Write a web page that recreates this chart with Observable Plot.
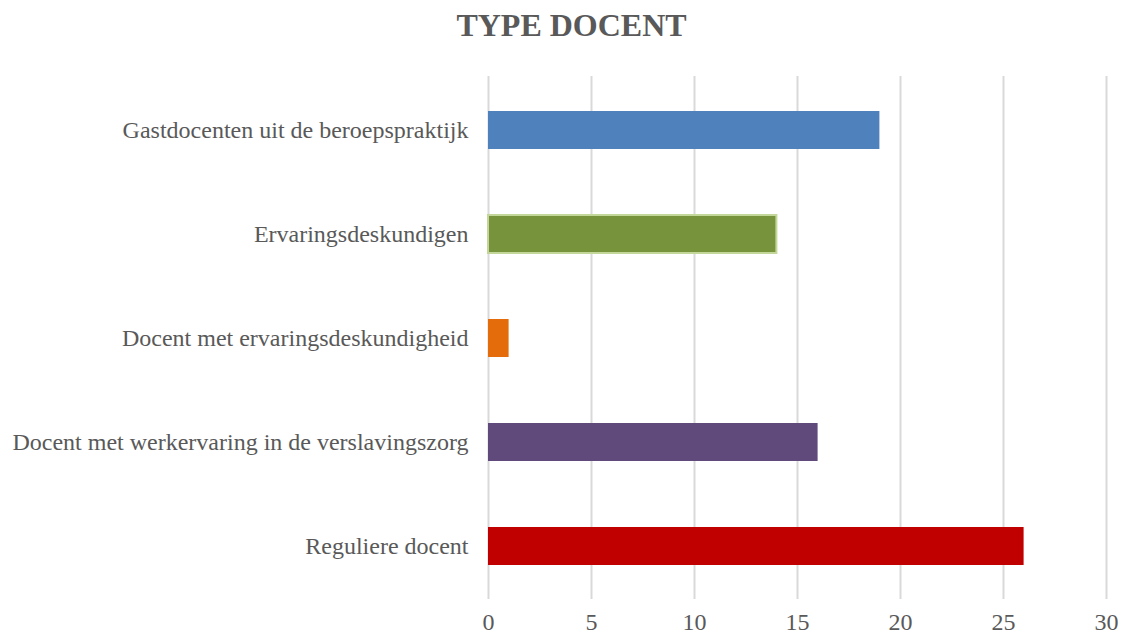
<!DOCTYPE html>
<html>
<head>
<meta charset="utf-8">
<script src="https://cdn.jsdelivr.net/npm/d3@7"></script>
<script src="https://cdn.jsdelivr.net/npm/@observablehq/plot@0.6"></script>
<style>
  html, body { margin: 0; padding: 0; background: #fff; }
  #wrap { position: relative; width: 1121px; height: 636px; overflow: hidden; }
  #title { height: 60px; width: 1121px; text-align: center; font-family: "Liberation Serif", "Times New Roman", serif;
           font-weight: bold; font-size: 32px; color: #595959; line-height: 50px; padding-left: 22px; box-sizing: border-box; }
  #chart svg { display: block; }
</style>
</head>
<body>
<div id="wrap">
  <div id="title">TYPE DOCENT</div>
  <div id="chart"></div>
</div>
<script>
const categories = [
  "Gastdocenten uit de beroepspraktijk",
  "Ervaringsdeskundigen",
  "Docent met ervaringsdeskundigheid",
  "Docent met werkervaring in de verslavingszorg",
  "Reguliere docent"
];
const values = [19, 14, 1, 16, 26];
const colors = ["#4F81BD", "#77933C", "#E46C0A", "#604A7B", "#C00000"];
const xTicks = [0, 5, 10, 15, 20, 25, 30];

const data = categories.map((c, i) => ({category: c, value: values[i], color: colors[i]}));

const chart = Plot.plot({
  width: 1121,
  height: 576,
  marginLeft: 488,
  marginRight: 15,
  marginTop: 16,
  marginBottom: 37,
  style: {fontFamily: "'Liberation Serif', 'Times New Roman', serif", color: "#595959", background: "#fff"},
  x: {domain: [0, 30], ticks: xTicks, label: null},
  y: {domain: categories, paddingInner: 0.636, paddingOuter: 0.318, label: null},
  marks: [
    Plot.gridX(xTicks, {stroke: "#d9d9d9", strokeWidth: 2, strokeOpacity: 1}),
    Plot.barX(data, {x: "value", y: "category", fill: "color", stroke: d => d.category === "Ervaringsdeskundigen" ? "#c4d79b" : "none", strokeWidth: 2}),
    Plot.axisX(xTicks, {tickSize: 0, tickPadding: 13, fontSize: 24, fill: "#595959", label: null}),
    Plot.axisY({tickSize: 0, tickPadding: 20, fontSize: 24, fill: "#595959", label: null})
  ]
});
document.getElementById("chart").appendChild(chart);
</script>
</body>
</html>
